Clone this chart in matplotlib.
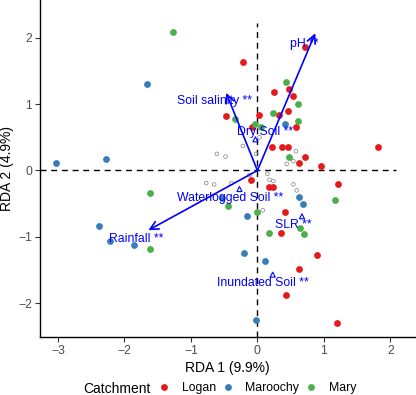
import matplotlib
matplotlib.use("Agg")
import matplotlib.pyplot as plt
from matplotlib.lines import Line2D

plt.rcParams['font.family'] = ['Liberation Sans', 'DejaVu Sans']

# site scores per catchment (RDA1, RDA2)
logan_x = [0.71, -0.21, 0.25, 0.47, 0.53, -0.47, 0.03, 0.33, 0.46, 0.58, -0.08, 0.22, 0.37, 0.46,
           1.82, 0.72, 0.63, 0.96, -0.10, 0.17, 0.23, 1.21, 0.42, 0.35, 0.90, 0.62, 0.43, 1.19]
logan_y = [1.86, 1.63, 1.19, 1.23, 1.13, 0.82, 0.84, 0.84, 0.89, 0.65, 0.65, 0.35, 0.36, 0.36,
           0.35, 0.20, 0.12, 0.07, -0.14, -0.25, -0.25, -0.21, -0.63, -0.94, -1.28, -1.49, -1.88, -2.30]
maroochy_x = [-1.66, -2.27, -3.03, -2.39, -2.21, -1.86, 0.42, 0.62, 0.68, -0.54, -0.16, -0.20, 0.11, -0.02]
maroochy_y = [1.31, 0.18, 0.11, -0.83, -1.07, -1.12, 0.70, -0.40, -0.50, -0.41, -0.68, -1.24, -1.36, -2.25]
mary_x = [-1.27, -1.61, -1.61, 0.43, 0.61, -0.34, 0.24, 0.61, -0.03, 0.06, 0.48, 1.17, -0.44, 0.00,
          0.18, 0.64, 0.70]
mary_y = [2.09, -0.34, -1.18, 1.33, 1.00, 0.77, 0.86, 0.75, 0.70, 0.66, 0.21, -0.44, -0.53, -0.62,
          -0.94, -0.86, -0.96]

# species scores
species_x = [-0.22, -0.61, -0.48, -0.02, 0.58, 0.44, 0.54, -0.12, 0.15, 0.18, 0.24, -0.77, -0.65,
             -0.39, 0.54, 0.59, 0.08, 0.03]
species_y = [0.37, 0.25, 0.21, 0.25, 0.29, 0.10, 0.14, -0.07, -0.05, -0.14, -0.16, -0.19, -0.21,
             -0.19, -0.21, -0.30, -0.60, 0.50]

# continuous environmental vectors
vec_names = ['pH **', 'Soil salinity **', 'Rainfall **']
vec_x = [0.87, -0.47, -1.64]
vec_y = [2.07, 1.17, -0.90]
vec_lab_x = [0.71, -0.64, -1.82]
vec_lab_y = [1.91, 1.05, -1.03]

# factor centroids
fac_names = ['Dry Soil **', 'Waterlogged Soil **', 'SLR **', 'Inundated Soil **']
fac_x = [-0.03, -0.27, 0.67, 0.23]
fac_y = [0.47, -0.28, -0.69, -1.57]
fac_lab_x = [0.12, -0.41, 0.54, 0.08]
fac_lab_y = [0.58, -0.42, -0.82, -1.69]

colors = {'Logan': '#E41A1C', 'Maroochy': '#377EB8', 'Mary': '#4DAF4A'}
blue = '#0000FF'

fig = plt.figure(figsize=(4.16, 3.95), dpi=100)
ax = fig.add_axes([40/416, 1-337/395, 375/416, 337/395])

xmin, xmax = -3.27, 2.37
ymin, ymax = -2.51, 2.57

ax.plot([xmin, 2.08], [0, 0], color='black', lw=1.0, ls=(0, (4.3, 3.4)), zorder=1)
ax.plot([0, 0], [ymin, 2.23], color='black', lw=1.0, ls=(0, (4.3, 3.4)), zorder=1)

ax.scatter(logan_x, logan_y, s=24, color=colors['Logan'], lw=0, zorder=2)
ax.scatter(maroochy_x, maroochy_y, s=24, color=colors['Maroochy'], lw=0, zorder=2)
ax.scatter(mary_x, mary_y, s=24, color=colors['Mary'], lw=0, zorder=2)
ax.scatter(species_x, species_y, s=7, facecolor='none', edgecolor='#808080', lw=0.5, zorder=2.5)

for name, x, y, lx, ly in zip(vec_names, vec_x, vec_y, vec_lab_x, vec_lab_y):
    ax.annotate('', xy=(x, y), xytext=(0, 0),
                arrowprops=dict(arrowstyle='->,head_length=0.6,head_width=0.3', color=blue,
                                lw=1.2, shrinkA=0, shrinkB=0, mutation_scale=10), zorder=3)
    ax.text(lx, ly, name, color=blue, fontsize=8.8, ha='center', va='center', zorder=4)

ax.scatter(fac_x, fac_y, s=13, marker='^', facecolor='none', edgecolor=blue, lw=0.8, zorder=3)
for name, lx, ly in zip(fac_names, fac_lab_x, fac_lab_y):
    ax.text(lx, ly, name, color=blue, fontsize=8.8, ha='center', va='center', zorder=4)

ax.set_xlim(xmin, xmax)
ax.set_ylim(ymin, ymax)
ax.set_xticks([-3, -2, -1, 0, 1, 2])
ax.set_yticks([-2, -1, 0, 1, 2])
for s in ['top', 'right']:
    ax.spines[s].set_visible(False)
for s in ['left', 'bottom']:
    ax.spines[s].set_linewidth(1.0)
ax.tick_params(length=3.5, width=0.8, color='#333333', labelcolor='#4D4D4D', labelsize=8.8, pad=2.2)
ax.set_xlabel('RDA 1 (9.9%)', fontsize=10, labelpad=3)
ax.set_ylabel('RDA 2 (4.9%)', fontsize=10, labelpad=3)

fig.text(83/416, 1-393/395, 'Catchment', fontsize=10, ha='left', va='baseline')
handles = [Line2D([], [], ls='none', marker='o', markersize=4.9, markerfacecolor=c, markeredgewidth=0)
           for c in colors.values()]
fig.legend(handles, list(colors.keys()), loc='center left', bbox_to_anchor=(158/416, 1-388/395),
           ncol=3, frameon=False, fontsize=8.8, handlelength=1, handletextpad=0.95,
           columnspacing=0.45, borderpad=0, borderaxespad=0)

fig.savefig('out.png', dpi=100)
